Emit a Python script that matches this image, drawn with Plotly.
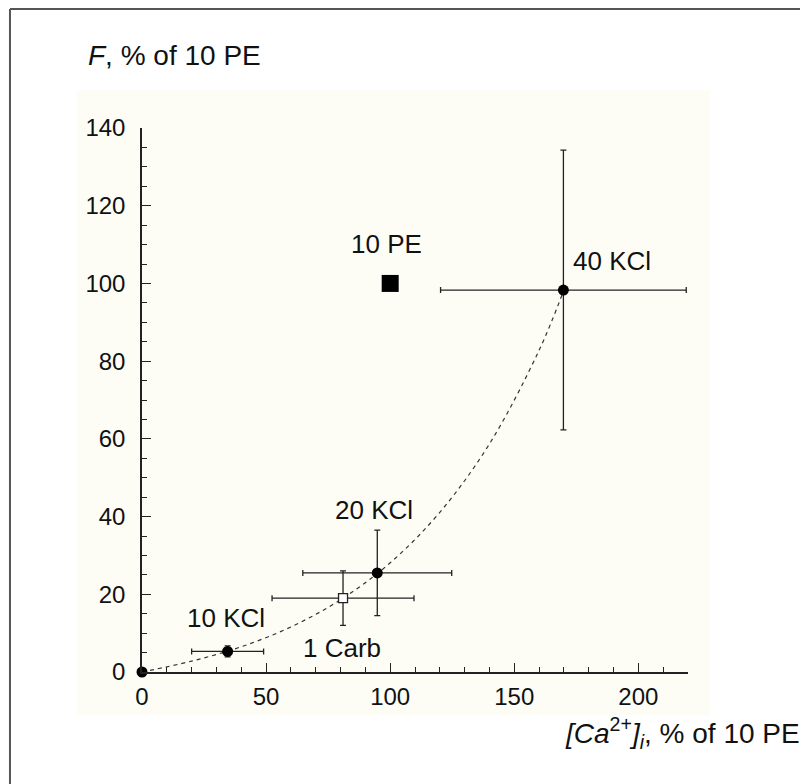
import plotly.graph_objects as go

# Data
pt_labels = ["0", "10 KCl", "20 KCl", "40 KCl"]
pt_x = [0, 34.5, 94.8, 169.8]
pt_y = [0, 5.3, 25.5, 98.3]
pt_xerr = [0, 14.5, 30.0, 49.5]
pt_yerr = [0, 1.4, 11.0, 36.0]

carb_x = [81.0]
carb_y = [19.0]
carb_xerr = [28.6]
carb_yerr = [7.0]

pe_x = [100]
pe_y = [100]

# dashed fitted curve
curve_x = [0, 20, 40, 60, 80, 100, 120, 140, 160, 170]
curve_y = [0, 2.8, 6.5, 11.6, 18.6, 28.1, 41.1, 58.7, 82.8, 98.3]

label_text = ["10 PE", "40 KCl", "20 KCl", "10 KCl", "1 Carb"]
label_x = [98.7, 189.2, 93.5, 33.8, 80.4]
label_y = [110.1, 105.8, 41.7, 14.0, 6.3]

FONT = "Liberation Sans, Arial, sans-serif"
INK = "#111111"

fig = go.Figure()

fig.add_trace(go.Scatter(
    x=curve_x, y=curve_y, mode="lines", line=dict(color="#333333", width=1.2, dash="4px,4px", shape="spline"),
    hoverinfo="skip", cliponaxis=False))

fig.add_trace(go.Scatter(
    x=carb_x, y=carb_y, mode="markers",
    marker=dict(symbol="square", size=9, color="white", line=dict(color="#222222", width=1.3)),
    error_x=dict(type="data", array=carb_xerr, color="#222222", thickness=1.3, width=3),
    error_y=dict(type="data", array=carb_yerr, color="#222222", thickness=1.3, width=3),
    cliponaxis=False))

fig.add_trace(go.Scatter(
    x=pt_x, y=pt_y, mode="markers",
    marker=dict(symbol="circle", size=11, color="#000000"),
    error_x=dict(type="data", array=pt_xerr, color="#222222", thickness=1.3, width=3),
    error_y=dict(type="data", array=pt_yerr, color="#222222", thickness=1.3, width=3),
    cliponaxis=False))

fig.add_trace(go.Scatter(
    x=pe_x, y=pe_y, mode="markers",
    marker=dict(symbol="square", size=17, color="#000000"),
    cliponaxis=False))

for t, x, y in zip(label_text, label_x, label_y):
    fig.add_annotation(x=x, y=y, text=t, showarrow=False, xanchor="center", yanchor="middle",
                       font=dict(family=FONT, size=26, color=INK))

# axis titles
fig.add_annotation(xref="paper", yref="paper", x=-0.1026, y=1.134, text="<i>F</i>, % of 10 PE",
                   showarrow=False, xanchor="left", yanchor="middle",
                   font=dict(family=FONT, size=28, color=INK))
fig.add_annotation(xref="paper", yref="paper", x=1.209, y=-0.112,
                   text="<i>[Ca</i><sup>2+</sup><i>]<sub>i</sub></i>, % of 10 PE",
                   showarrow=False, xanchor="right", yanchor="middle",
                   font=dict(family=FONT, size=28, color=INK))

# faint cream backdrop and frame
fig.add_shape(type="rect", xref="paper", yref="paper", x0=-0.12, x1=1.04, y0=-0.08, y1=1.07,
              fillcolor="#fdfdf6", line=dict(width=0), layer="below")
fig.add_shape(type="line", xref="paper", yref="paper", x0=-0.2418, x1=-0.2418, y0=1.2188, y1=-0.21,
              line=dict(color="#555555", width=2))
fig.add_shape(type="line", xref="paper", yref="paper", x0=-0.2418, x1=1.23, y0=1.2188, y1=1.2188,
              line=dict(color="#555555", width=2))

axis_common = dict(
    showgrid=False, zeroline=False, showline=True, linecolor="#222222", linewidth=1.5,
    ticks="inside", ticklen=9, tickwidth=1.3, tickcolor="#222222",
    tickfont=dict(family=FONT, size=24, color=INK),
)
fig.update_xaxes(range=[0, 220], tick0=0, dtick=50, ticklabelstandoff=2,
                 minor=dict(ticks="inside", ticklen=5, tickwidth=1.2, tickcolor="#222222", dtick=10, tick0=0, showgrid=False),
                 **axis_common)
fig.update_yaxes(range=[0, 140], tick0=0, dtick=20, ticklabelstandoff=10,
                 minor=dict(ticks="inside", ticklen=5, tickwidth=1.2, tickcolor="#222222", dtick=5, tick0=0, showgrid=False),
                 **axis_common)

# page body has an 8px margin: figure is 800x776, plot area spans x 142..688, y 128..672 on the page
fig.update_layout(
    width=800, height=776,
    margin=dict(l=134, r=120, t=120, b=112),
    paper_bgcolor="white", plot_bgcolor="rgba(0,0,0,0)",
    showlegend=False,
    font=dict(family=FONT, color=INK),
)

fig.write_html("out.html")
